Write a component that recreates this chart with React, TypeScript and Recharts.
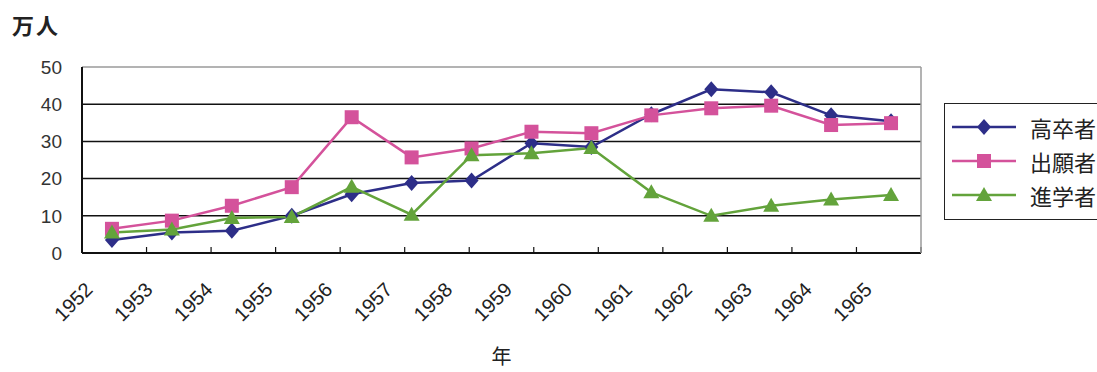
import { LineChart, Line, XAxis, YAxis, CartesianGrid, Legend } from "recharts";

const years = ["1952", "1953", "1954", "1955", "1956", "1957", "1958", "1959", "1960", "1961", "1962", "1963", "1964", "1965"];
const graduates = [3.5, 5.5, 6, 10, 15.8, 18.8, 19.5, 29.5, 28.5, 37.3, 44, 43.2, 37, 35.4];
const applicants = [6.5, 8.7, 12.7, 17.7, 36.5, 25.7, 28.1, 32.6, 32.2, 37, 38.9, 39.6, 34.4, 34.9];
const enrolled = [5.5, 6.3, 9.4, 9.7, 17.8, 10.3, 26.3, 26.8, 28.2, 16.3, 10, 12.7, 14.4, 15.6];
const yTicks = [0, 10, 20, 30, 40, 50];
const boundaryTicks = [1, 2, 3, 4, 5, 6, 7, 8, 9, 10, 11, 12, 13];

const BLUE = "#2d2e88";
const PINK = "#d4529b";
const GREEN = "#63a33b";
const JP = '"Noto Sans CJK JP", "Liberation Sans", sans-serif';
const LATIN = '"Liberation Sans", Arial, sans-serif';

const data = years.map((year, i) => ({
  year,
  graduates: graduates[i],
  applicants: applicants[i],
  enrolled: enrolled[i],
}));

const series = [
  { key: "graduates", name: "高卒者", color: BLUE, shape: "diamond" },
  { key: "applicants", name: "出願者", color: PINK, shape: "square" },
  { key: "enrolled", name: "進学者", color: GREEN, shape: "triangle" },
];

function marker(shape: string, cx: number, cy: number, color: string, key?: string) {
  if (shape === "diamond") {
    return <path key={key} d={`M${cx},${cy - 8}L${cx + 7},${cy}L${cx},${cy + 8}L${cx - 7},${cy}Z`} fill={color} />;
  }
  if (shape === "square") {
    return <rect key={key} x={cx - 7} y={cy - 7} width={14} height={14} fill={color} />;
  }
  return <path key={key} d={`M${cx},${cy - 8}L${cx + 8},${cy + 6}L${cx - 8},${cy + 6}Z`} fill={color} />;
}

// year labels, slanted 45° with their end just left of the category centre
const YearTick = ({ x, y, payload }: any) => (
  <g transform={`translate(${x - 18},${y + 30})`}>
    <text transform="rotate(-45)" textAnchor="end" fontSize={20} fontFamily={LATIN} fill="#222">
      {payload.value}
    </text>
  </g>
);

const LegendBox = () => (
  <div
    style={{
      border: "1.5px solid #222",
      padding: "6px 0 7px 0",
      width: 170,
      background: "#fff",
      boxSizing: "border-box",
    }}
  >
    {series.map((s) => (
      <div key={s.key} style={{ display: "flex", alignItems: "center", height: 34 }}>
        <svg width={78} height={20} style={{ marginLeft: 7 }}>
          <line x1={0} y1={10} x2={64} y2={10} stroke={s.color} strokeWidth={2.5} />
          {marker(s.shape, 32, 10, s.color)}
        </svg>
        <span style={{ fontFamily: JP, fontSize: 22, color: "#222", lineHeight: "34px" }}>{s.name}</span>
      </div>
    ))}
  </div>
);

export default function App() {
  return (
    <div style={{ position: "absolute", left: 0, top: 0, width: 1097, height: 372, background: "#fff" }}>
      <div
        style={{
          position: "absolute",
          left: 12,
          top: 8,
          fontFamily: JP,
          fontSize: 22,
          fontWeight: 700,
          color: "#222",
          letterSpacing: 2,
        }}
      >
        万人
      </div>
      <LineChart
        width={1097}
        height={372}
        data={data}
        margin={{ top: 67, right: 175, left: 22, bottom: 8 }}
      >
        <CartesianGrid vertical={false} horizontalValues={[10, 20, 30, 40]} stroke="#111" strokeWidth={1.5} />
        <CartesianGrid vertical={false} horizontalValues={[50]} stroke="#9a9a9a" strokeWidth={1.5} />
        {/* tick marks on the category boundaries, pointing into the plot */}
        <XAxis
          xAxisId="bounds"
          type="number"
          domain={[0, 14]}
          ticks={boundaryTicks}
          orientation="bottom"
          mirror
          height={1}
          tickSize={6}
          tick={() => <g />}
          axisLine={false}
          tickLine={{ stroke: "#111", strokeWidth: 1.2 }}
        />
        <XAxis
          dataKey="year"
          scale="band"
          height={111}
          tickLine={false}
          axisLine={{ stroke: "#111", strokeWidth: 2 }}
          tick={<YearTick />}
          interval={0}
          label={{ value: "年", position: "insideBottom", offset: 0, fontFamily: JP, fontSize: 20, fill: "#222" }}
        />
        <YAxis
          domain={[0, 50]}
          ticks={yTicks}
          width={60}
          tickLine={false}
          axisLine={{ stroke: "#111", strokeWidth: 2 }}
          tickMargin={14}
          tick={{ fontSize: 19, fill: "#333", fontFamily: LATIN }}
        />
        <YAxis
          yAxisId="right"
          orientation="right"
          domain={[0, 50]}
          width={1}
          tick={false}
          tickLine={false}
          axisLine={{ stroke: "#9a9a9a", strokeWidth: 1.5 }}
        />
        {series.map((s) => (
          <Line
            key={s.key}
            type="linear"
            dataKey={s.key}
            name={s.name}
            stroke={s.color}
            strokeWidth={2.5}
            isAnimationActive={false}
            dot={(p: any) => marker(s.shape, p.cx, p.cy, s.color, `${s.key}-${p.index}`)}
            activeDot={false}
          />
        ))}
        <Legend
          layout="vertical"
          align="center"
          verticalAlign="middle"
          content={<LegendBox />}
          wrapperStyle={{ position: "absolute", left: 944, top: 103, width: 170 }}
        />
      </LineChart>
    </div>
  );
}
